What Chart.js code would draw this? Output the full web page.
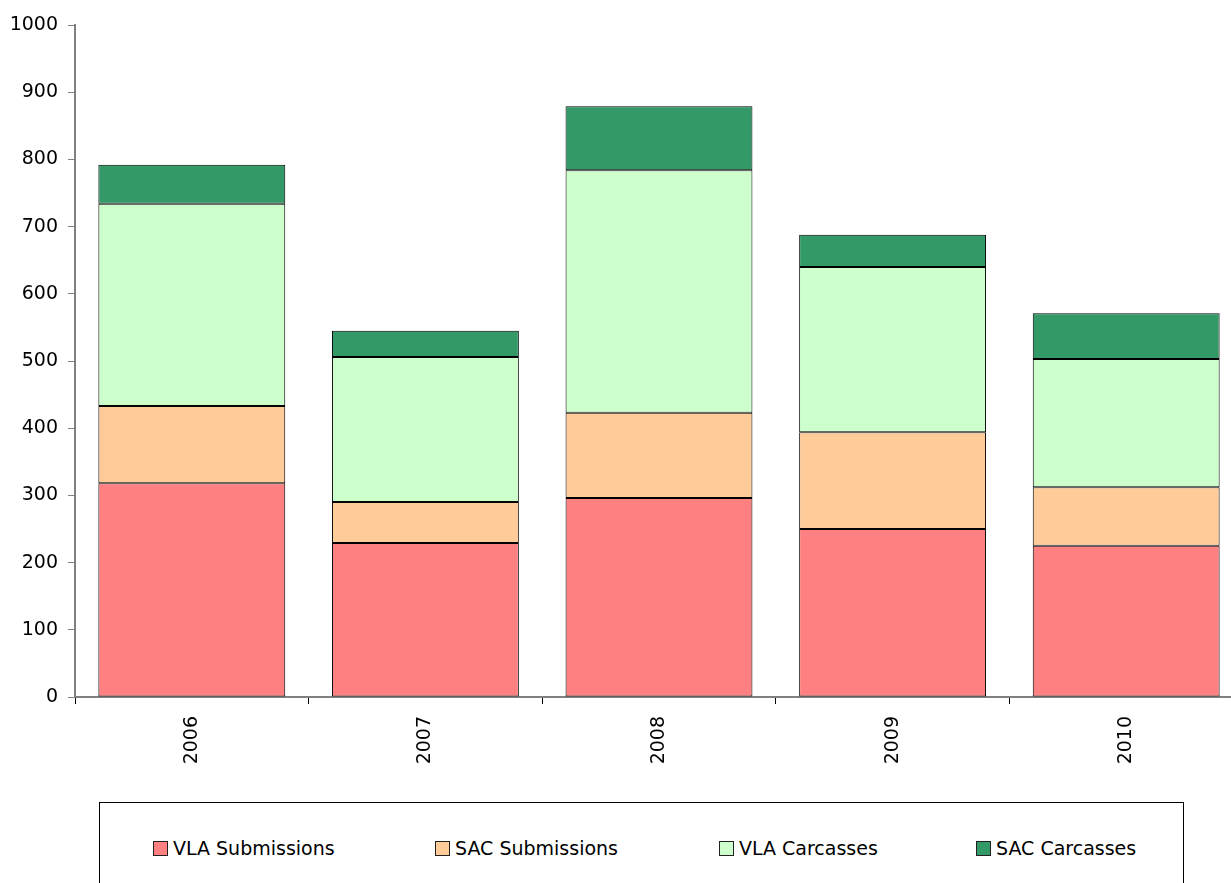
<!DOCTYPE html>
<html>
<head>
<meta charset="utf-8">
<script src="https://cdn.jsdelivr.net/npm/chart.js@4"></script>
<style>
  html, body { margin: 0; padding: 0; background: #fff; overflow: hidden; width: 1231px; height: 883px; }
  #wrap { position: absolute; left: 0; top: 0; width: 1250px; height: 790px; }
  #legenda {
    position: absolute; left: 99px; top: 802px; width: 1085px; height: 120px;
    border: 1px solid #000; box-sizing: border-box;
    font-family: "DejaVu Sans", sans-serif; font-size: 19px; color: #000;
  }
  .item { position: absolute; top: 34px; display: flex; align-items: center; white-space: nowrap; }
  .item span.box { width: 13px; height: 13px; border: 1px solid #222; margin-right: 5px; display: inline-block; }
</style>
</head>
<body>
<div id="wrap"><canvas id="grafico" width="1250" height="790"></canvas></div>
<div id="legenda"></div>
<script>
// dados
const anos = ['2006', '2007', '2008', '2009', '2010'];
const vlaSubmissions = [318, 229, 296, 250, 225];
const sacSubmissions = [115, 61, 127, 144, 87];
const vlaCarcasses = [301, 216, 361, 246, 191];
const sacCarcasses = [58, 39, 95, 48, 68];
const ticksY = [0, 100, 200, 300, 400, 500, 600, 700, 800, 900, 1000];

const series = [
  { label: 'VLA Submissions', data: vlaSubmissions, cor: '#FF8080' },
  { label: 'SAC Submissions', data: sacSubmissions, cor: '#FFCC99' },
  { label: 'VLA Carcasses', data: vlaCarcasses, cor: '#CCFFCC' },
  { label: 'SAC Carcasses', data: sacCarcasses, cor: '#339966' }
];

const fonte = { family: '"DejaVu Sans", sans-serif', size: 19 };

new Chart(document.getElementById('grafico'), {
  type: 'bar',
  data: {
    labels: anos,
    datasets: series.map(s => ({
      label: s.label,
      data: s.data,
      backgroundColor: s.cor,
      borderColor: '#000',
      borderWidth: 1,
      borderSkipped: false,
      categoryPercentage: 0.8,
      barPercentage: 1
    }))
  },
  options: {
    responsive: false,
    animation: false,
    layout: { padding: { top: 25, right: 7, left: 0, bottom: 0 } },
    plugins: { legend: { display: false }, tooltip: { enabled: false } },
    scales: {
      x: {
        stacked: true,
        afterFit: s => { s.height = 93; },
        grid: { offset: true, drawOnChartArea: false, tickLength: 7, tickColor: '#000', color: '#000' },
        border: { color: '#808080', width: 2 },
        ticks: { font: fonte, color: '#000', minRotation: 90, maxRotation: 90, padding: 12 }
      },
      y: {
        stacked: true,
        min: 0,
        max: 1000,
        afterFit: s => { s.width = 75; },
        afterBuildTicks: s => { s.ticks = ticksY.map(v => ({ value: v })); },
        grid: { drawOnChartArea: false, tickLength: 7, color: '#808080' },
        border: { color: '#808080', width: 2 },
        ticks: { font: fonte, color: '#000', padding: 10, callback: v => String(v) }
      }
    }
  }
});

// legenda
const posicoes = [53, 335, 619, 876];
const leg = document.getElementById('legenda');
series.forEach((s, i) => {
  const el = document.createElement('div');
  el.className = 'item';
  el.style.left = posicoes[i] + 'px';
  el.innerHTML = '<span class="box" style="background:' + s.cor + '"></span>' + s.label;
  leg.appendChild(el);
});
</script>
</body>
</html>
